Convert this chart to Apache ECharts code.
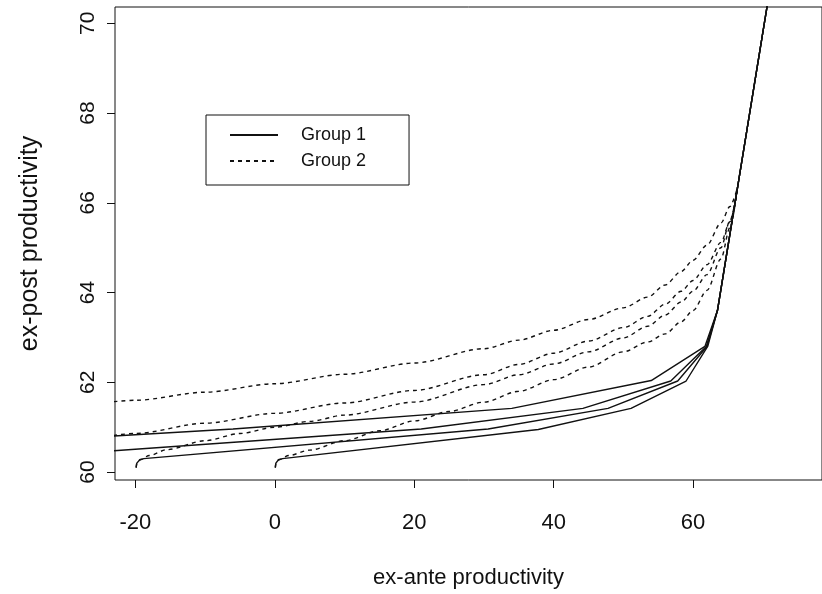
<!DOCTYPE html>
<html>
<head>
<meta charset="utf-8">
<title>ex-ante vs ex-post productivity</title>
<script src="https://cdn.jsdelivr.net/npm/echarts@6/dist/echarts.min.js"></script>
<style>
  html, body { margin: 0; padding: 0; background: #fff; }
  #chart { width: 822px; height: 594px; }
</style>
</head>
<body>
<div id="chart"></div>
<script>
// tick labels
const xTicks = [-20, 0, 20, 40, 60];
const yTicks = [60, 62, 64, 66, 68, 70];

// shared steep part, all solid curves end on it
const tail = [[63.5, 63.6], [72, 71.69]];

// Group 1 (solid), piecewise linear
const group1A = [[-30, 60.74], [-6, 60.96], [34, 61.42], [54, 62.04], [61.7, 62.8]];
const group1B = [[-30, 60.40], [21, 60.96], [44.2, 61.42], [56.8, 62.03], [61.9, 62.8]];
const group1C = [[-19.9, 60.10], [-19.8, 60.2], [-19.4, 60.27], [-18.8, 60.30], [30.6, 60.96],
                 [47.8, 61.42], [57.8, 62.03], [62, 62.8]];
const group1D = [[0.07, 60.10], [0.15, 60.2], [0.5, 60.27], [1.1, 60.30], [37.8, 60.95],
                 [51.1, 61.42], [59, 62.03], [62.1, 62.8]];

// Group 2 (dashed), smooth curves
const group2A = [[-30, 61.43], [-20, 61.60], [-10, 61.78], [0, 61.97], [10, 62.18], [20, 62.43],
                 [30, 62.75], [35, 62.94], [40, 63.16], [45, 63.40], [50, 63.66], [53.5, 63.9],
                 [56, 64.17], [58.3, 64.47], [60, 64.72], [62, 65.06], [64, 65.55], [65.3, 65.92],
                 [66.4, 66.36]];
const group2B = [[-30, 60.62], [-20, 60.86], [-10, 61.09], [0, 61.31], [10, 61.54], [20, 61.82],
                 [30, 62.17], [35, 62.40], [40, 62.65], [45, 62.92], [50, 63.22], [53.5, 63.47],
                 [56, 63.74], [58.3, 64.03], [60, 64.27], [62, 64.62], [64, 65.12], [65.3, 65.58],
                 [66.4, 66.36]];
const group2C = [[-19.9, 60.10], [-19.8, 60.2], [-19.3, 60.28], [-18, 60.37], [-15.5, 60.50],
                 [-10, 60.70], [-5, 60.86], [0, 61.0], [5, 61.13], [10, 61.27], [20, 61.56],
                 [30, 61.95], [35, 62.17], [40, 62.41], [45, 62.68], [50, 62.99], [53.5, 63.25],
                 [56, 63.50], [58.3, 63.79], [60, 64.03], [62, 64.40], [64, 65.0], [65.3, 65.6],
                 [66.4, 66.36]];
const group2D = [[0.07, 60.10], [0.15, 60.2], [0.6, 60.28], [2, 60.37], [5, 60.49], [10, 60.70],
                 [15, 60.92], [20, 61.14], [25, 61.35], [30, 61.56], [35, 61.80], [40, 62.06],
                 [45, 62.34], [50, 62.68], [53.5, 62.90], [56, 63.08], [58.3, 63.35], [60, 63.6],
                 [62, 64.05], [64, 64.75], [65.3, 65.45], [66.4, 66.36]];

const FONT = "'Liberation Sans', Arial, Helvetica, sans-serif";
const INK = '#111';

function solidSeries(points) {
    return {
        name: 'Group 1',
        type: 'line',
        data: points.concat(tail),
        symbol: 'none',
        itemStyle: { color: INK },
        lineStyle: { color: INK, width: 1.4, type: 'solid' },
        z: 3
    };
}

function dashedSeries(points) {
    return {
        name: 'Group 2',
        type: 'line',
        data: points,
        symbol: 'none',
        smooth: 0.3,
        smoothMonotone: 'x',
        itemStyle: { color: INK },
        lineStyle: { color: INK, width: 1.4, type: [4, 4] },
        z: 2
    };
}

const chart = echarts.init(document.getElementById('chart'));

const option = {
    animation: false,
    backgroundColor: '#fff',
    textStyle: { fontFamily: FONT, color: INK },
    grid: {
        left: 115, right: -3, top: 7, bottom: 109,
        show: true,
        borderColor: INK,
        borderWidth: 1
    },
    legend: {
        data: ['Group 1', 'Group 2'],
        orient: 'vertical',
        left: 206,
        top: 115,
        padding: [11, 43, 15, 23],
        itemWidth: 48,
        itemHeight: 14,
        itemGap: 8,
        borderColor: INK,
        borderWidth: 1,
        borderRadius: 0,
        selectedMode: false,
        itemStyle: { opacity: 0 },
        textStyle: { fontSize: 18, color: INK, fontFamily: FONT, padding: [0, 0, 0, 18] }
    },
    xAxis: {
        type: 'value',
        min: -22.93,
        max: 78.5,
        splitLine: { show: false },
        axisLine: { show: false, onZero: false },
        axisTick: { show: true, length: 8, customValues: xTicks, lineStyle: { color: INK } },
        axisLabel: { customValues: xTicks, fontSize: 22, margin: 32, color: INK, fontFamily: FONT },
        name: 'ex-ante productivity',
        nameLocation: 'middle',
        nameGap: 87,
        nameTextStyle: { fontSize: 22, color: INK, fontFamily: FONT }
    },
    yAxis: {
        type: 'value',
        min: 59.824,
        max: 70.364,
        splitLine: { show: false },
        axisLine: { show: false, onZero: false },
        axisTick: { show: true, length: 8, customValues: yTicks, lineStyle: { color: INK } },
        axisLabel: { customValues: yTicks, rotate: 90, fontSize: 21, margin: 16, color: INK, fontFamily: FONT },
        name: 'ex-post productivity',
        nameLocation: 'middle',
        nameRotate: 90,
        nameGap: 72,
        nameTextStyle: { fontSize: 25, color: INK, fontFamily: FONT }
    },
    series: [
        solidSeries(group1A),
        solidSeries(group1B),
        solidSeries(group1C),
        solidSeries(group1D),
        dashedSeries(group2A),
        dashedSeries(group2B),
        dashedSeries(group2C),
        dashedSeries(group2D)
    ]
};

chart.setOption(option);
</script>
</body>
</html>
